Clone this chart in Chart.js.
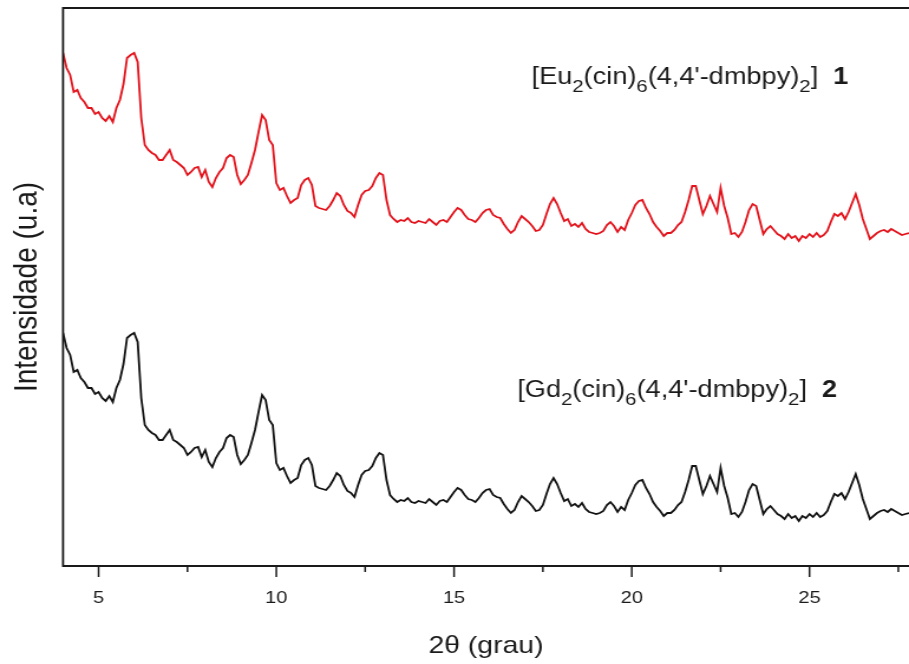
<!DOCTYPE html>
<html>
<head>
<meta charset="utf-8">
<script src="https://cdn.jsdelivr.net/npm/chart.js@4.4.1/dist/chart.umd.min.js"></script>
<style>
  html, body { margin: 0; padding: 0; background: #fff; overflow: hidden; }
</style>
</head>
<body>
<!-- the drawing surface is laid out narrower and widened on screen -->
<canvas id="c" width="770" height="664" style="display:block;width:909px;height:664px"></canvas>
<script>
// 2θ scan positions (degrees)
const twoTheta = [
  4.0,4.1,4.2,4.3,4.4,4.5,4.6,4.7,4.8,4.9,
  5.0,5.1,5.2,5.3,5.4,5.5,5.6,5.7,5.8,5.9,
  6.0,6.1,6.2,6.3,6.4,6.5,6.6,6.7,6.8,6.9,
  7.0,7.1,7.2,7.3,7.4,7.5,7.6,7.7,7.8,7.9,
  8.0,8.1,8.2,8.3,8.4,8.5,8.6,8.7,8.8,8.9,
  9.0,9.1,9.2,9.3,9.4,9.5,9.6,9.7,9.8,9.9,
  10.0,10.1,10.2,10.3,10.4,10.5,10.6,10.7,10.8,10.9,
  11.0,11.1,11.2,11.3,11.4,11.5,11.6,11.7,11.8,11.9,
  12.0,12.1,12.2,12.3,12.4,12.5,12.6,12.7,12.8,12.9,
  13.0,13.1,13.2,13.3,13.4,13.5,13.6,13.7,13.8,13.9,
  14.0,14.1,14.2,14.3,14.4,14.5,14.6,14.7,14.8,14.9,
  15.0,15.1,15.2,15.3,15.4,15.5,15.6,15.7,15.8,15.9,
  16.0,16.1,16.2,16.3,16.4,16.5,16.6,16.7,16.8,16.9,
  17.0,17.1,17.2,17.3,17.4,17.5,17.6,17.7,17.8,17.9,
  18.0,18.1,18.2,18.3,18.4,18.5,18.6,18.7,18.8,18.9,
  19.0,19.1,19.2,19.3,19.4,19.5,19.6,19.7,19.8,19.9,
  20.0,20.1,20.2,20.3,20.4,20.5,20.6,20.7,20.8,20.9,
  21.0,21.1,21.2,21.3,21.4,21.5,21.6,21.7,21.8,21.9,
  22.0,22.1,22.2,22.3,22.4,22.5,22.6,22.7,22.8,22.9,
  23.0,23.1,23.2,23.3,23.4,23.5,23.6,23.7,23.8,23.9,
  24.0,24.1,24.2,24.3,24.4,24.5,24.6,24.7,24.8,24.9,
  25.0,25.1,25.2,25.3,25.4,25.5,25.6,25.7,25.8,25.9,
  26.0,26.1,26.2,26.3,26.4,26.5,26.6,26.7,26.8,26.9,
  27.0,27.1,27.2,27.3,27.4,27.5,27.6,27.7,27.8
];

// [Eu2(cin)6(4,4'-dmbpy)2] (1) — stacked intensity, arbitrary units
const euIntensity = [
  513,498,491,474,476,468,464,458,458,452,
  454,448,445,450,444,458,466,482,508,511,
  513,504,448,421,416,413,411,406,406,411,
  416,406,404,401,398,391,394,398,399,389,
  396,384,379,388,394,398,408,411,409,391,
  382,386,391,403,416,434,451,446,426,421,
  383,376,378,370,363,366,368,381,386,388,
  381,360,358,357,356,360,366,373,370,361,
  355,353,349,361,371,375,376,380,388,393,
  391,366,351,347,344,346,345,348,344,343,
  345,344,343,347,344,341,345,346,344,349,
  354,358,356,351,347,346,344,348,353,356,
  357,351,349,348,342,337,333,336,344,350,
  347,344,340,335,336,341,352,362,368,362,
  353,345,347,340,342,339,343,337,334,333,
  332,333,335,341,344,340,334,339,336,346,
  353,361,365,366,358,352,344,339,335,330,
  333,333,336,341,344,354,366,380,380,366,
  352,360,370,362,354,378,360,348,332,333,
  329,334,344,356,362,360,346,332,337,340,
  336,332,330,327,332,328,330,325,330,328,
  332,329,333,329,331,335,344,352,350,353,
  347,354,363,372,361,347,337,327,330,333,
  335,336,334,337,335,333,331,332,333
];

// [Gd2(cin)6(4,4'-dmbpy)2] (2) — stacked intensity, arbitrary units
const gdIntensity = [
  233,218,211,194,196,188,184,178,178,172,
  174,168,165,170,164,178,186,202,228,231,
  233,224,168,141,136,133,131,126,126,131,
  136,126,124,121,118,111,114,118,119,109,
  116,104,99,108,114,118,128,131,129,111,
  102,106,111,123,136,154,171,166,146,141,
  103,96,98,90,83,86,88,101,106,108,
  101,80,78,77,76,80,86,93,90,81,
  75,73,69,81,91,95,96,100,108,113,
  111,86,71,67,64,66,65,68,64,63,
  65,64,63,67,64,61,65,66,64,69,
  74,78,76,71,67,66,64,68,73,76,
  77,71,69,68,62,57,53,56,64,70,
  67,64,60,55,56,61,72,82,88,82,
  73,65,67,60,62,59,63,57,54,53,
  52,53,55,61,64,60,54,59,56,66,
  73,81,85,86,78,72,64,59,55,50,
  53,53,56,61,64,74,86,100,100,86,
  72,80,90,82,74,98,80,68,52,53,
  49,54,64,76,82,80,66,52,57,60,
  56,52,50,47,52,48,50,45,50,48,
  52,49,53,49,51,55,64,72,70,73,
  67,74,83,92,81,67,57,47,50,53,
  55,56,54,57,55,53,51,52,53
];

// axis ticks
const majorTicks = [5, 10, 15, 20, 25];
const minorTicks = [7.5, 12.5, 17.5, 22.5, 27.5];
const tickLabels = ['5', '10', '15', '20', '25'];

// compound labels: [text, style]
const euLabel = [['[Eu', ''], ['2', 'sub'], ['(cin)', ''], ['6', 'sub'], ["(4,4'-dmbpy)", ''], ['2', 'sub'], [']  ', ''], ['1', 'bold']];
const gdLabel = [['[Gd', ''], ['2', 'sub'], ['(cin)', ''], ['6', 'sub'], ["(4,4'-dmbpy)", ''], ['2', 'sub'], [']  ', ''], ['2', 'bold']];
const labelAnchors = [{ x: 17.18, y: 482 }, { x: 16.78, y: 169 }];

const FONT = '"Liberation Sans", Arial, Helvetica, sans-serif';
const INK = '#1a1a1a';

function drawRich(ctx, parts, x0, y0, size) {
  let cx = x0;
  ctx.fillStyle = INK;
  ctx.textBaseline = 'alphabetic';
  ctx.textAlign = 'left';
  parts.forEach(([t, kind]) => {
    const s = kind === 'sub' ? size * 0.75 : size;
    ctx.font = (kind === 'bold' ? 'bold ' : '') + s + 'px ' + FONT;
    const dy = kind === 'sub' ? size * 0.34 : 0;
    ctx.fillText(t, cx, y0 + dy);
    cx += ctx.measureText(t).width;
  });
}

const framePlugin = {
  id: 'frame',
  afterDraw(chart) {
    const { ctx, chartArea: a, scales: { x, y } } = chart;
    ctx.save();
    ctx.strokeStyle = INK;
    ctx.lineCap = 'butt';
    ctx.lineWidth = 2;
    ctx.beginPath();
    ctx.moveTo(a.left, a.top); ctx.lineTo(a.right, a.top);
    ctx.moveTo(a.left, a.bottom); ctx.lineTo(a.right, a.bottom);
    ctx.stroke();
    ctx.lineWidth = 1.8;
    ctx.beginPath();
    ctx.moveTo(a.left, a.top - 1); ctx.lineTo(a.left, a.bottom + 1);
    ctx.stroke();
    ctx.lineWidth = 1.5;
    majorTicks.forEach(v => {
      const px = x.getPixelForValue(v);
      ctx.beginPath(); ctx.moveTo(px, a.bottom); ctx.lineTo(px, a.bottom + 11); ctx.stroke();
    });
    minorTicks.forEach(v => {
      const px = x.getPixelForValue(v);
      ctx.beginPath(); ctx.moveTo(px, a.bottom); ctx.lineTo(px, a.bottom + 6); ctx.stroke();
    });
    drawRich(ctx, euLabel, x.getPixelForValue(labelAnchors[0].x), y.getPixelForValue(labelAnchors[0].y), 23);
    drawRich(ctx, gdLabel, x.getPixelForValue(labelAnchors[1].x), y.getPixelForValue(labelAnchors[1].y), 23);
    ctx.restore();
  }
};

const canvas = document.getElementById('c');
new Chart(canvas, {
  type: 'line',
  data: {
    datasets: [
      {
        label: '[Eu2(cin)6(4,4\'-dmbpy)2] 1',
        data: twoTheta.map((t, i) => ({ x: t, y: euIntensity[i] })),
        borderColor: '#e2121b',
        borderWidth: 1.8,
        pointRadius: 0,
        tension: 0,
        fill: false
      },
      {
        label: '[Gd2(cin)6(4,4\'-dmbpy)2] 2',
        data: twoTheta.map((t, i) => ({ x: t, y: gdIntensity[i] })),
        borderColor: '#111111',
        borderWidth: 1.8,
        pointRadius: 0,
        tension: 0,
        fill: false
      }
    ]
  },
  options: {
    responsive: false,
    devicePixelRatio: 1,
    animation: false,
    events: [],
    layout: { padding: { top: 8, left: 0, right: 0, bottom: 0 } },
    plugins: { legend: { display: false }, tooltip: { enabled: false } },
    scales: {
      x: {
        type: 'linear',
        min: 4,
        max: 27.8,
        afterBuildTicks: s => { s.ticks = majorTicks.map(v => ({ value: v })); },
        afterFit: s => { s.height = 98; },
        grid: { display: false, drawTicks: false },
        border: { display: false },
        ticks: {
          padding: 22,
          color: INK,
          font: { family: FONT, size: 17 },
          callback: (v) => { const i = majorTicks.indexOf(v); return i >= 0 ? tickLabels[i] : ''; }
        },
        title: {
          display: true,
          text: '2θ (grau)',
          color: INK,
          font: { family: FONT, size: 24 },
          padding: { top: 0, bottom: 3 }
        }
      },
      y: {
        type: 'linear',
        min: 0,
        max: 558,
        afterFit: s => { s.width = 53.4; },
        grid: { display: false, drawTicks: false },
        border: { display: false },
        ticks: { display: false },
        title: {
          display: true,
          text: 'Intensidade (u.a)',
          color: INK,
          font: { family: FONT, size: 28 },
          padding: { top: 6, bottom: 0 }
        }
      }
    }
  },
  plugins: [framePlugin]
});
// keep the widened on-screen size
canvas.style.width = '909px';
canvas.style.height = '664px';
</script>
</body>
</html>
